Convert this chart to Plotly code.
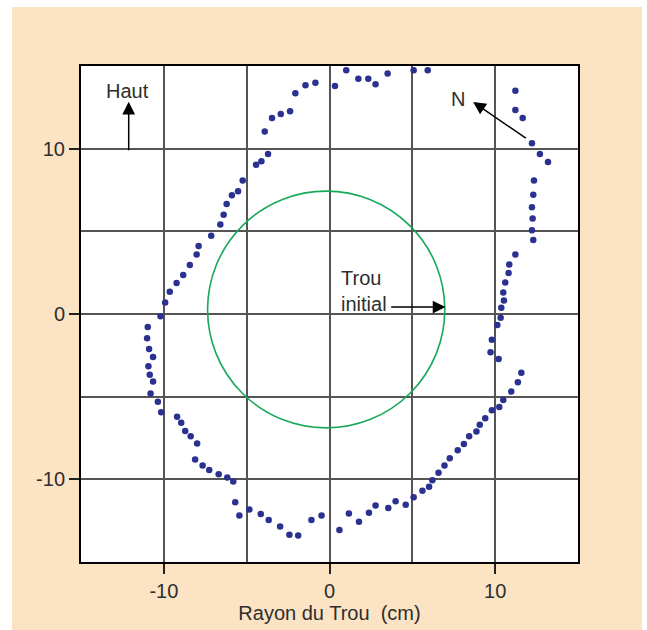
import plotly.graph_objects as go

# Measured hole profile (cm)
pts_x = [5.93, 5.08, 3.51, 2.78, 2.34, 1.74, 1.01, 0.33, -0.85, -1.45, -2.06, -2.38, -2.94, -3.47,
         -3.91, -3.71, -4.11, -4.43, -5.24, -5.52, -5.89, -6.21, -6.39, -6.59, -7.14, -7.90, -8.02,
         -8.43, -8.83, -9.23, -9.64, -9.92, -10.20, -10.97, -11.01, -10.89, -10.65, -10.93, -10.85,
         -10.65, -10.80, -10.36, -10.16, -9.20, -8.95, -8.71, -8.38, -7.99, -8.11, -7.66, -7.26,
         -6.69, -6.17, -5.81, -5.69, -5.44, -4.84, -4.15, -3.67, -2.98, -2.42, -1.89, -1.09, -0.48,
         0.60, 1.17, 1.78, 2.38, 2.78, 3.55, 3.99, 4.60, 5.08, 5.61, 6.01, 6.21, 6.58, 6.94, 7.26,
         7.74, 8.11, 8.43, 8.87, 9.07, 9.40, 9.80, 10.25, 10.49, 10.97, 11.37, 11.58,
         10.21, 9.72, 9.80, 10.13, 10.33, 10.37, 10.53, 10.49, 10.61, 10.81, 10.85, 11.22,
         12.30, 12.22, 12.26, 12.22, 12.30, 12.34, 13.19, 12.70, 12.22, 11.66, 11.22, 11.22]
pts_y = [14.75, 14.75, 14.55, 13.90, 14.23, 14.23, 14.75, 13.79, 13.99, 13.83, 13.35, 12.26, 12.10, 11.85,
         11.04, 9.68, 9.24, 9.03, 8.07, 7.43, 7.19, 6.66, 6.01, 5.41, 4.73, 4.12, 3.60,
         2.96, 2.36, 1.87, 1.35, 0.70, -0.14, -0.79, -1.47, -2.11, -2.60, -3.16, -3.68,
         -4.09, -4.81, -5.30, -5.94, -6.22, -6.58, -7.07, -7.39, -7.83, -8.80, -9.16, -9.44,
         -9.69, -9.89, -10.13, -11.38, -12.18, -11.82, -12.10, -12.46, -12.86, -13.35, -13.39, -12.46, -12.18,
         -13.07, -12.06, -12.56, -12.02, -11.58, -11.74, -11.33, -11.53, -11.09, -10.69, -10.45, -10.05, -9.60, -9.16, -8.72,
         -8.24, -7.87, -7.39, -7.11, -6.70, -6.30, -5.82, -5.62, -5.20, -4.69, -4.13, -3.56,
         -2.72, -2.32, -1.55, -0.66, -0.22, 0.38, 0.82, 1.30, 1.91, 2.48, 3.00, 3.60,
         4.47, 5.07, 5.77, 6.46, 7.22, 8.07, 9.20, 9.68, 10.33, 11.85, 12.34, 13.50]

# Initial hole (circle)
hole_center = (-0.2, 0.27)
hole_radius = 7.16

x_ticks = [-10, 0, 10]
y_ticks = [-10, 0, 10]
x_title = "Rayon du Trou\u00a0\u00a0(cm)"

PEACH = "#FCE3C3"
FONT = "Liberation Sans"
TXT = "#2e2e2e"
FS = 20

fig = go.Figure()
fig.add_trace(go.Scatter(x=pts_x, y=pts_y, mode="markers",
                         marker=dict(size=6.5, color="#2B3190"),
                         hoverinfo="skip", showlegend=False))

cx, cy = hole_center
fig.add_shape(type="circle", xref="x", yref="y",
              x0=cx - hole_radius, x1=cx + hole_radius,
              y0=cy - hole_radius, y1=cy + hole_radius,
              line=dict(color="#17A85A", width=1.6))

# white strips around peach panel
for (x0, x1, y0, y1) in [(-0.2, -0.1388, -0.2, 1.2), (1.1288, 1.2, -0.2, 1.2), (-0.2, 1.2, 1.119, 1.2)]:
    fig.add_shape(type="rect", xref="paper", yref="paper", x0=x0, x1=x1, y0=y0, y1=y1,
                  fillcolor="white", line=dict(width=0), layer="below")

arrow_kw = dict(showarrow=True, arrowhead=2, arrowsize=1.7, arrowwidth=1.5, arrowcolor="black",
                axref="x", ayref="y", xref="x", yref="y", text="")
fig.add_annotation(x=-12.12, y=12.84, ax=-12.12, ay=9.82, **arrow_kw)
fig.add_annotation(x=8.67, y=12.83, ax=11.94, ay=10.57, **arrow_kw)
fig.add_annotation(x=7.0, y=0.42, ax=3.63, ay=0.42, **arrow_kw)

txt_font = dict(family=FONT, size=FS, color=TXT)
fig.add_annotation(x=-12.2, y=13.5, text="Haut", showarrow=False, font=txt_font)
fig.add_annotation(x=7.74, y=12.99, text="N", showarrow=False, font=txt_font)
fig.add_annotation(x=0.55, y=1.39, text="Trou<br>initial", showarrow=False, font=txt_font,
                   xanchor="left", align="left")

axis_common = dict(range=[-15, 15], showline=True, mirror=True, linecolor="black", linewidth=2,
                   ticks="outside", ticklen=10, tickwidth=1.5, tickcolor="#222",
                   showgrid=True, gridcolor="#555", gridwidth=1.5, zeroline=False,
                   tickfont=dict(family=FONT, size=FS, color=TXT),
                   minor=dict(dtick=5, tick0=0, showgrid=True, gridcolor="#555", gridwidth=1.5, ticks=""))

fig.update_xaxes(tickvals=x_ticks, ticktext=[str(v) for v in x_ticks],
                 title=dict(text=x_title, font=dict(family=FONT, size=FS, color=TXT), standoff=2),
                 **axis_common)
fig.update_yaxes(tickvals=y_ticks, ticktext=[str(v) for v in y_ticks], **axis_common)

fig.update_layout(width=647, height=630,
                  margin=dict(l=81, r=69, t=66, b=68),
                  paper_bgcolor=PEACH, plot_bgcolor="white",
                  font=dict(family=FONT))

fig.write_html("out.html")
